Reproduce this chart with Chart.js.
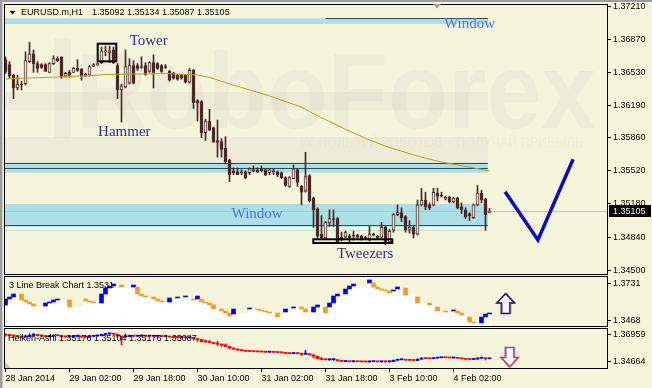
<!DOCTYPE html>
<html>
<head>
<meta charset="utf-8">
<script src="https://cdn.jsdelivr.net/npm/chart.js@4.4.1/dist/chart.umd.min.js"></script>
<style>
  html, body { margin: 0; padding: 0; background: #f5f5dc; }
  #wrap { position: relative; width: 652px; height: 388px; background: #f5f5dc; overflow: hidden; }
  #wrap canvas { position: absolute; left: 0; top: 0; }
</style>
</head>
<body>
<div id="wrap">
  <canvas id="haChart" width="652" height="388"></canvas>
  <canvas id="lbChart" width="652" height="388"></canvas>
  <canvas id="mainChart" width="652" height="388"></canvas>
</div>
<script>
// ═══════════════════════════════════════════════════════
//  EURUSD.m H1 — candles + 3 Line Break + Heiken-Ashi
// ═══════════════════════════════════════════════════════

// ── Candles (one per hour) ───────────────────────────────
const candleO = [
  1.3666, 1.3661, 1.3650, 1.3637, 1.3641, 1.3641, 1.3664, 1.3672, 1.3662, 1.3661,
  1.3661, 1.3653, 1.3662, 1.3667, 1.3669, 1.3649, 1.3653, 1.3653, 1.3657, 1.3656,
  1.3651, 1.3650, 1.3659, 1.3661, 1.3663, 1.3674, 1.3673, 1.3676, 1.3660, 1.3635,
  1.3638, 1.3642, 1.3660, 1.3660, 1.3659, 1.3660, 1.3654, 1.3663, 1.3662, 1.3660,
  1.3659, 1.3654, 1.3652, 1.3650, 1.3650, 1.3650, 1.3643, 1.3655, 1.3624, 1.3623,
  1.3591, 1.3603, 1.3596, 1.3583, 1.3582, 1.3575, 1.3563, 1.3552, 1.3551, 1.3551,
  1.3551, 1.3550, 1.3553, 1.3553, 1.3554, 1.3553, 1.3550, 1.3552, 1.3551, 1.3550,
  1.3545, 1.3536, 1.3544, 1.3553, 1.3536, 1.3531, 1.3547, 1.3524, 1.3513, 1.3487,
  1.3483, 1.3499, 1.3503, 1.3503, 1.3484, 1.3484, 1.3485, 1.3486, 1.3486, 1.3485,
  1.3484, 1.3481, 1.3487, 1.3485, 1.3484, 1.3494, 1.3479, 1.3491, 1.3507, 1.3509,
  1.3505, 1.3491, 1.3494, 1.3487, 1.3517, 1.3522, 1.3517, 1.3517, 1.3529, 1.3527,
  1.3523, 1.3525, 1.3520, 1.3524, 1.3515, 1.3512, 1.3508, 1.3504, 1.3517, 1.3529,
  1.3523, 1.35092
];
const candleH = [
  1.3669, 1.3664, 1.3651, 1.3650, 1.3644, 1.3674, 1.3684, 1.3676, 1.3664, 1.3662,
  1.3662, 1.3663, 1.3670, 1.3669, 1.3669, 1.3653, 1.3655, 1.3658, 1.3666, 1.3657,
  1.3652, 1.3660, 1.3662, 1.3663, 1.3679, 1.3680, 1.3680, 1.3679, 1.3662, 1.3641,
  1.3676, 1.3667, 1.3665, 1.3662, 1.3669, 1.3663, 1.3664, 1.3671, 1.3663, 1.3661,
  1.3661, 1.3655, 1.3653, 1.3651, 1.3651, 1.3651, 1.3657, 1.3656, 1.3625, 1.3624,
  1.3605, 1.3615, 1.3597, 1.3604, 1.3585, 1.3587, 1.3564, 1.3555, 1.3555, 1.3553,
  1.3552, 1.3555, 1.3557, 1.3555, 1.3557, 1.3554, 1.3554, 1.3554, 1.3552, 1.3551,
  1.3546, 1.3546, 1.3558, 1.3554, 1.3537, 1.3571, 1.3548, 1.3525, 1.3514, 1.3506,
  1.3500, 1.3512, 1.3512, 1.3504, 1.3489, 1.3490, 1.3487, 1.3490, 1.3487, 1.3486,
  1.3485, 1.3495, 1.3488, 1.3486, 1.3499, 1.3495, 1.3492, 1.3508, 1.3517, 1.3514,
  1.3506, 1.3501, 1.3495, 1.3522, 1.3534, 1.3530, 1.3519, 1.3534, 1.3534, 1.3530,
  1.3526, 1.3526, 1.3525, 1.3525, 1.3519, 1.3514, 1.3509, 1.3518, 1.3537, 1.3532,
  1.3524, 1.35134
];
const candleL = [
  1.3652, 1.3647, 1.3626, 1.3635, 1.3635, 1.3640, 1.3663, 1.3653, 1.3653, 1.3657,
  1.3654, 1.3653, 1.3661, 1.3664, 1.3647, 1.3648, 1.3648, 1.3653, 1.3654, 1.3645,
  1.3649, 1.3649, 1.3659, 1.3660, 1.3662, 1.3670, 1.3663, 1.3662, 1.3626, 1.3602,
  1.3637, 1.3641, 1.3641, 1.3655, 1.3657, 1.3650, 1.3653, 1.3637, 1.3656, 1.3653,
  1.3657, 1.3644, 1.3646, 1.3645, 1.3646, 1.3642, 1.3642, 1.3616, 1.3603, 1.3586,
  1.3583, 1.3593, 1.3581, 1.3566, 1.3566, 1.3559, 1.3541, 1.3548, 1.3548, 1.3548,
  1.3544, 1.3548, 1.3551, 1.3550, 1.3551, 1.3547, 1.3548, 1.3548, 1.3546, 1.3544,
  1.3536, 1.3535, 1.3544, 1.3536, 1.3517, 1.3530, 1.3520, 1.3494, 1.3483, 1.3482,
  1.3482, 1.3495, 1.3495, 1.3478, 1.3480, 1.3483, 1.3479, 1.3481, 1.3483, 1.3481,
  1.3482, 1.3480, 1.3485, 1.3482, 1.3483, 1.3476, 1.3478, 1.3489, 1.3506, 1.3500,
  1.3489, 1.3488, 1.3483, 1.3486, 1.3516, 1.3512, 1.3512, 1.3516, 1.3521, 1.3525,
  1.3522, 1.3519, 1.3519, 1.3513, 1.3508, 1.3503, 1.3501, 1.3503, 1.3516, 1.3519,
  1.3491, 1.35087
];
const candleC = [
  1.3654, 1.3649, 1.3637, 1.3641, 1.3640, 1.3665, 1.3672, 1.3662, 1.3657, 1.3658,
  1.3654, 1.3662, 1.3667, 1.3665, 1.3648, 1.3652, 1.3650, 1.3657, 1.3655, 1.3649,
  1.3649, 1.3659, 1.3661, 1.3662, 1.3675, 1.3675, 1.3675, 1.3663, 1.3635, 1.3639,
  1.3659, 1.3660, 1.3642, 1.3657, 1.3658, 1.3651, 1.3663, 1.3653, 1.3657, 1.3654,
  1.3658, 1.3645, 1.3647, 1.3646, 1.3647, 1.3643, 1.3655, 1.3622, 1.3622, 1.3591,
  1.3603, 1.3594, 1.3582, 1.3581, 1.3574, 1.3561, 1.3548, 1.3550, 1.3548, 1.3550,
  1.3545, 1.3554, 1.3552, 1.3551, 1.3552, 1.3548, 1.3553, 1.3551, 1.3548, 1.3545,
  1.3537, 1.3545, 1.3554, 1.3540, 1.3530, 1.3546, 1.3521, 1.3512, 1.3485, 1.3483,
  1.3499, 1.3503, 1.3502, 1.3479, 1.3481, 1.3489, 1.3483, 1.3485, 1.3484, 1.3482,
  1.3483, 1.3487, 1.3486, 1.3483, 1.3494, 1.3479, 1.3490, 1.3507, 1.3509, 1.3504,
  1.3491, 1.3494, 1.3487, 1.3517, 1.3522, 1.3515, 1.3514, 1.3530, 1.3526, 1.3526,
  1.3525, 1.3520, 1.3524, 1.3514, 1.3512, 1.3505, 1.3506, 1.3517, 1.3529, 1.3522,
  1.3507, 1.35105
];

// ── Moving average (sampled where it bends) ──────────────
const maIdx = [0, 6.1, 11.1, 18.6, 25.6, 33.6, 39.9, 47.9, 51.1, 56.9,
               65.4, 73.6, 78.6, 84.9, 90.4, 95.4, 103.6, 108.6, 115.4, 121];
const maVal = [1.36461, 1.36472, 1.36479, 1.36492, 1.36508, 1.36513, 1.36518, 1.36503, 1.36477, 1.36400,
               1.36297, 1.36179, 1.36072, 1.35948, 1.35846, 1.35767, 1.35664, 1.35613, 1.35562, 1.35518];

// ── Forecast "V" ─────────────────────────────────────────
const vIdx = [124.9, 133.1, 141.9];
const vVal = [1.35304, 1.34810, 1.35638];

// ── Window zones and their edge lines ────────────────────
const zoneHi    = [1.37084, 1.35603, 1.35179];
const zoneLo    = [1.37026, 1.35500, 1.34946];
const lineLevel = [1.37084, 1.35597, 1.35545, 1.34960];
const lineFrom  = [80, -2, -2, -2];
const paleLevel = 1.34912;
const ZONE_END  = 120.6;

// ── 3 Line Break blocks ──────────────────────────────────
const lbSlot = [0, 1, 2, 4, 5, 6, 7, 10, 11, 12, 13, 16, 20, 21, 22, 24, 25, 26, 27, 29,
                32, 33, 34, 35, 37, 38, 39, 41, 43, 45, 47, 48, 49, 50, 51, 52, 54, 55, 56, 57,
                61, 63, 64, 65, 66, 68, 70, 72, 74, 75, 77, 78, 80, 81, 82, 83, 85, 86, 87, 91,
                92, 93, 94, 95, 96, 97, 98, 100, 103, 106, 108, 110, 112, 113, 114, 116, 117, 119, 120, 121];
const lbLo = [1.35762, 1.36194, 1.36338, 1.36122, 1.35978, 1.35834, 1.35690, 1.35690, 1.35906, 1.35978,
              1.36122, 1.35618, 1.36050, 1.35978, 1.35906, 1.35906, 1.36554, 1.36986, 1.37130, 1.37058,
              1.37058, 1.36554, 1.36410, 1.36338, 1.36194, 1.36050, 1.35978, 1.35978, 1.36266, 1.36338,
              1.36122, 1.36194, 1.35978, 1.35906, 1.35762, 1.35474, 1.35330, 1.35186, 1.34970, 1.35114,
              1.35474, 1.35402, 1.35330, 1.35258, 1.35186, 1.34898, 1.35258, 1.35546, 1.35474, 1.35258,
              1.35258, 1.35618, 1.35186, 1.35618, 1.35906, 1.36410, 1.36554, 1.36914, 1.37130, 1.37346,
              1.37058, 1.36914, 1.36842, 1.36770, 1.36626, 1.36770, 1.36914, 1.36482, 1.35906, 1.35762,
              1.35330, 1.35258, 1.35330, 1.35186, 1.35042, 1.34538, 1.34466, 1.34466, 1.34898, 1.35114];
const lbHi = [1.36194, 1.36338, 1.36554, 1.36554, 1.36122, 1.35978, 1.35834, 1.35906, 1.35978, 1.36122,
              1.36194, 1.36122, 1.36194, 1.36050, 1.35978, 1.36554, 1.36986, 1.37130, 1.37274, 1.37202,
              1.37202, 1.37058, 1.36554, 1.36410, 1.36338, 1.36194, 1.36050, 1.36266, 1.36338, 1.36410,
              1.36194, 1.36410, 1.36194, 1.35978, 1.35906, 1.35762, 1.35474, 1.35330, 1.35186, 1.35474,
              1.35546, 1.35474, 1.35402, 1.35330, 1.35258, 1.35186, 1.35474, 1.35618, 1.35618, 1.35474,
              1.35618, 1.35762, 1.35618, 1.35906, 1.36410, 1.36554, 1.36914, 1.37130, 1.37274, 1.37562,
              1.37346, 1.37058, 1.36914, 1.36842, 1.36770, 1.36842, 1.37058, 1.36986, 1.36338, 1.35906,
              1.35618, 1.35330, 1.35402, 1.35330, 1.35186, 1.34898, 1.34538, 1.34898, 1.35114, 1.35186];
const lbUp = [1, 1, 1, 0, 0, 0, 0, 1, 1, 1, 1, 0, 0, 0, 0, 1, 1, 1, 1, 0,
              1, 0, 0, 0, 0, 0, 0, 1, 1, 1, 0, 1, 0, 0, 0, 0, 0, 0, 0, 1,
              1, 0, 0, 0, 0, 0, 1, 1, 0, 0, 1, 1, 0, 1, 1, 1, 1, 1, 1, 1,
              0, 0, 0, 0, 0, 1, 1, 0, 0, 0, 0, 0, 1, 0, 0, 0, 0, 1, 1, 1];

// ── Heiken-Ashi bars ─────────────────────────────────────
const haO = [
  1.3704, 1.3696, 1.3692, 1.3687, 1.3683, 1.3679, 1.3683, 1.3692, 1.3696, 1.3692,
  1.3687, 1.3683, 1.3687, 1.3692, 1.3690, 1.3683, 1.3680, 1.3680, 1.3684, 1.3686,
  1.3680, 1.3679, 1.3685, 1.3688, 1.3691, 1.3700, 1.3706, 1.3708, 1.3703, 1.3687,
  1.3679, 1.3683, 1.3689, 1.3686, 1.3687, 1.3689, 1.3686, 1.3689, 1.3685, 1.3686,
  1.3683, 1.3684, 1.3679, 1.3676, 1.3675, 1.3675, 1.3672, 1.3676, 1.3666, 1.3658,
  1.3641, 1.3638, 1.3632, 1.3624, 1.3618, 1.3611, 1.3598, 1.3585, 1.3577, 1.3568,
  1.3563, 1.3558, 1.3556, 1.3554, 1.3553, 1.3552, 1.3550, 1.3550, 1.3549, 1.3547,
  1.3545, 1.3540, 1.3538, 1.3542, 1.3538, 1.3532, 1.3537, 1.3527, 1.3515, 1.3495,
  1.3486, 1.3485, 1.3486, 1.3486, 1.3476, 1.3471, 1.3472, 1.3469, 1.3470, 1.3469,
  1.3468, 1.3467, 1.3469, 1.3469, 1.3468, 1.3472, 1.3468, 1.3471, 1.3481, 1.3486,
  1.3486, 1.3482, 1.3481, 1.3479, 1.3490, 1.3498, 1.3495, 1.3494, 1.3500, 1.3503,
  1.3504, 1.3503, 1.3501, 1.3502, 1.3498, 1.3494, 1.3490, 1.3488, 1.3491, 1.3499,
  1.3500, 1.3494
];
const haC = [
  1.3696, 1.3692, 1.3687, 1.3683, 1.3679, 1.3683, 1.3692, 1.3696, 1.3692, 1.3687,
  1.3683, 1.3687, 1.3692, 1.3690, 1.3683, 1.3680, 1.3680, 1.3684, 1.3686, 1.3680,
  1.3679, 1.3685, 1.3688, 1.3691, 1.3700, 1.3706, 1.3708, 1.3703, 1.3687, 1.3679,
  1.3683, 1.3689, 1.3686, 1.3687, 1.3689, 1.3686, 1.3689, 1.3685, 1.3686, 1.3683,
  1.3684, 1.3679, 1.3676, 1.3675, 1.3675, 1.3672, 1.3676, 1.3666, 1.3658, 1.3641,
  1.3638, 1.3632, 1.3624, 1.3618, 1.3611, 1.3598, 1.3585, 1.3577, 1.3568, 1.3563,
  1.3558, 1.3556, 1.3554, 1.3553, 1.3552, 1.3550, 1.3550, 1.3549, 1.3547, 1.3545,
  1.3540, 1.3538, 1.3542, 1.3538, 1.3532, 1.3537, 1.3527, 1.3515, 1.3495, 1.3486,
  1.3485, 1.3486, 1.3486, 1.3476, 1.3471, 1.3472, 1.3469, 1.3470, 1.3469, 1.3468,
  1.3467, 1.3469, 1.3469, 1.3468, 1.3472, 1.3468, 1.3471, 1.3481, 1.3486, 1.3486,
  1.3482, 1.3481, 1.3479, 1.3490, 1.3498, 1.3495, 1.3494, 1.3500, 1.3503, 1.3504,
  1.3503, 1.3501, 1.3502, 1.3498, 1.3494, 1.3490, 1.3488, 1.3491, 1.3499, 1.3500,
  1.3494, 1.3494
];
const haH = [
  1.3704, 1.3700, 1.3696, 1.3692, 1.3687, 1.3696, 1.3704, 1.3709, 1.3700, 1.3696,
  1.3692, 1.3692, 1.3696, 1.3696, 1.3692, 1.3687, 1.3685, 1.3687, 1.3696, 1.3687,
  1.3683, 1.3687, 1.3689, 1.3692, 1.3704, 1.3710, 1.3711, 1.3710, 1.3704, 1.3687,
  1.3704, 1.3696, 1.3692, 1.3689, 1.3696, 1.3692, 1.3690, 1.3694, 1.3687, 1.3687,
  1.3685, 1.3685, 1.3680, 1.3677, 1.3677, 1.3676, 1.3680, 1.3677, 1.3666, 1.3658,
  1.3653, 1.3649, 1.3632, 1.3641, 1.3619, 1.3621, 1.3598, 1.3585, 1.3577, 1.3568,
  1.3563, 1.3560, 1.3558, 1.3556, 1.3554, 1.3553, 1.3553, 1.3552, 1.3551, 1.3549,
  1.3546, 1.3542, 1.3546, 1.3544, 1.3539, 1.3564, 1.3538, 1.3529, 1.3517, 1.3507,
  1.3493, 1.3495, 1.3495, 1.3487, 1.3479, 1.3475, 1.3473, 1.3475, 1.3471, 1.3470,
  1.3469, 1.3476, 1.3470, 1.3470, 1.3476, 1.3475, 1.3475, 1.3483, 1.3491, 1.3490,
  1.3487, 1.3487, 1.3483, 1.3493, 1.3505, 1.3503, 1.3497, 1.3504, 1.3505, 1.3505,
  1.3505, 1.3504, 1.3503, 1.3503, 1.3500, 1.3495, 1.3491, 1.3493, 1.3503, 1.3503,
  1.3500, 1.3495
];
const haL = [
  1.3687, 1.3687, 1.3675, 1.3679, 1.3675, 1.3679, 1.3683, 1.3687, 1.3687, 1.3683,
  1.3679, 1.3679, 1.3683, 1.3687, 1.3675, 1.3675, 1.3676, 1.3679, 1.3680, 1.3675,
  1.3676, 1.3676, 1.3683, 1.3687, 1.3689, 1.3698, 1.3700, 1.3700, 1.3679, 1.3611,
  1.3679, 1.3683, 1.3683, 1.3684, 1.3687, 1.3683, 1.3686, 1.3675, 1.3683, 1.3681,
  1.3682, 1.3677, 1.3675, 1.3673, 1.3673, 1.3670, 1.3670, 1.3658, 1.3641, 1.3636,
  1.3632, 1.3630, 1.3621, 1.3607, 1.3598, 1.3598, 1.3577, 1.3573, 1.3566, 1.3561,
  1.3555, 1.3554, 1.3553, 1.3551, 1.3551, 1.3548, 1.3548, 1.3547, 1.3546, 1.3543,
  1.3538, 1.3537, 1.3538, 1.3534, 1.3521, 1.3532, 1.3526, 1.3501, 1.3494, 1.3485,
  1.3483, 1.3481, 1.3480, 1.3475, 1.3469, 1.3469, 1.3466, 1.3466, 1.3468, 1.3466,
  1.3466, 1.3466, 1.3468, 1.3466, 1.3466, 1.3464, 1.3466, 1.3470, 1.3481, 1.3483,
  1.3481, 1.3480, 1.3476, 1.3478, 1.3490, 1.3493, 1.3493, 1.3494, 1.3498, 1.3501,
  1.3502, 1.3500, 1.3500, 1.3496, 1.3492, 1.3488, 1.3485, 1.3487, 1.3491, 1.3496,
  1.3483, 1.3493
];

// ── Axis ticks ───────────────────────────────────────────
const priceTicks  = [1.37210, 1.36870, 1.36530, 1.36190, 1.35860, 1.35520, 1.35180, 1.34840, 1.34500];
const lbTicks     = [1.3731, 1.3468];
const haTicks     = [1.36959, 1.34664];
const timeTickIdx = [0, 16, 32, 48, 64, 80, 96, 112];
const timeTicks   = ["28 Jan 2014", "29 Jan 02:00", "29 Jan 18:00", "30 Jan 10:00",
                     "31 Jan 02:00", "31 Jan 18:00", "3 Feb 10:00", "4 Feb 02:00"];

// ── Look ─────────────────────────────────────────────────
const BG     = "#f5f5dc";
const CANDLE = "#4b2828";
const BLUE   = "#0000ff";
const RED    = "#ff0000";
const ORANGE = "#f59a23";
const NAVY   = "#2a2f8a";
const ROYAL  = "#4f72e3";
const SANS   = "'Liberation Sans', Arial, sans-serif";
const SERIF  = "'Liberation Serif', 'Times New Roman', serif";
const FONT   = { family: SANS, size: 9 };
const X_MIN  = -0.125, X_MAX = 150.375;

// ── Shared helpers ───────────────────────────────────────
function xAxis(show) {
  const ax = {
    type: "linear", min: X_MIN, max: X_MAX, offset: false, display: show,
    grid: { offset: false, drawOnChartArea: false, tickLength: 4, color: "#000" },
    border: { display: false }
  };
  if (show) {
    ax.position = "bottom";
    ax.afterFit = s => { s.height = 20; s.paddingLeft = 0; s.paddingRight = 0; };
    ax.afterBuildTicks = s => { s.ticks = timeTickIdx.map(v => ({ value: v })); };
    ax.ticks = { callback: (v, i) => timeTicks[i], align: "start", maxRotation: 0, minRotation: 0,
                 autoSkip: false, padding: 1, font: FONT, color: "#000" };
  }
  return ax;
}

function yAxis(min, max, ticks, digits) {
  return {
    position: "right", min, max, beginAtZero: false,
    afterFit: s => { s.width = 45; s.paddingTop = 0; s.paddingBottom = 0; },
    afterBuildTicks: s => { s.ticks = ticks.map(v => ({ value: v })); },
    ticks: { callback: v => Number(v).toFixed(digits), font: FONT, color: "#000", padding: 2, autoSkip: false },
    grid: { drawOnChartArea: false, tickLength: 4, color: "#000" },
    border: { display: false }
  };
}

function baseOptions(padding, scales) {
  return {
    responsive: false, animation: false, devicePixelRatio: 1, events: [],
    layout: { padding }, scales,
    plugins: { legend: { display: false }, tooltip: { enabled: false } }
  };
}

function paneBorder(chart) {
  const { ctx, chartArea: a } = chart;
  ctx.save();
  ctx.strokeStyle = "#000"; ctx.lineWidth = 1;
  ctx.strokeRect(a.left - 0.5, a.top - 0.5, a.right - a.left + 1, a.bottom - a.top + 1);
  ctx.restore();
}

function outlineArrow(ctx, cx, top, pts, fill, under, over) {
  const path = dx => {
    ctx.beginPath();
    pts.forEach(([px, py], i) => i ? ctx.lineTo(cx + px + dx, top + py) : ctx.moveTo(cx + px + dx, top + py));
    ctx.closePath();
  };
  ctx.save();
  path(0); ctx.fillStyle = fill; ctx.fill();
  ctx.lineWidth = 1;
  path(1); ctx.strokeStyle = under; ctx.stroke();
  ctx.lineWidth = 1.3;
  path(0); ctx.strokeStyle = over; ctx.stroke();
  ctx.restore();
}

// ── Main pane decorations ────────────────────────────────
const notes = [
  { t: "Tower",    x: 35.8,  y: 1.36810, c: NAVY },
  { t: "Hammer",   x: 29.7,  y: 1.35872, c: NAVY },
  { t: "Window",   x: 116.0, y: 1.36985, c: ROYAL },
  { t: "Window",   x: 62.9,  y: 1.35035, c: ROYAL },
  { t: "Tweezers", x: 89.9,  y: 1.34625, c: NAVY }
];
const boxes = [
  { x0: 23.05, x1: 27.7, hi: 1.36824, lo: 1.36643 },
  { x0: 76.95, x1: 96.7, hi: 1.34817, lo: 1.34779 }
];

const mainDecor = {
  id: "mainDecor",
  beforeDatasetsDraw(chart) {
    const { ctx, chartArea: a, scales: { x, y } } = chart;
    const xr = x.getPixelForValue(ZONE_END);
    const n = candleC.length - 1;
    ctx.save();
    ctx.beginPath(); ctx.rect(a.left, a.top, a.right - a.left, a.bottom - a.top); ctx.clip();

    // watermark (kept faint)
    ctx.fillStyle = "#eeecd7";
    ctx.fillRect(a.left, 92, xr - a.left, 18);
    ctx.fillRect(a.left, 137, xr - a.left, 26);
    ctx.fillStyle = "rgba(140,140,150,0.065)";
    ctx.fillRect(54, 38, 17, 100);
    ctx.font = "bold 108px " + SANS;
    ctx.textAlign = "left"; ctx.textBaseline = "alphabetic";
    ctx.fillText("RoboForex", 76, 128, 520);
    ctx.fillStyle = "rgba(140,140,150,0.05)";
    ctx.font = "15px " + SANS;
    ctx.fillText("ИСПОЛЬЗУЙ РОБОТОВ – ПОЛУЧАЙ ПРИБЫЛЬ", 300, 147, 283);

    // window zones
    ctx.fillStyle = "#acdfe7";
    zoneLo.forEach((lo, i) => {
      const t = y.getPixelForValue(zoneHi[i]), b = y.getPixelForValue(lo);
      ctx.fillRect(a.left, t, xr - a.left, b - t);
    });
    ctx.lineWidth = 1;
    ctx.strokeStyle = "#2f4f4f";
    lineLevel.forEach((lv, i) => {
      const py = Math.round(y.getPixelForValue(lv)) + 0.5;
      ctx.beginPath();
      ctx.moveTo(Math.max(a.left, x.getPixelForValue(lineFrom[i])), py);
      ctx.lineTo(xr, py); ctx.stroke();
    });
    const pp = Math.round(y.getPixelForValue(paleLevel)) + 0.5;
    ctx.strokeStyle = "#b6e2ea";
    ctx.beginPath(); ctx.moveTo(a.left, pp); ctx.lineTo(xr, pp); ctx.stroke();

    // last price line
    const cp = Math.round(y.getPixelForValue(candleC[n])) + 0.5;
    ctx.strokeStyle = "#c9bfc4";
    ctx.beginPath(); ctx.moveTo(a.left, cp); ctx.lineTo(a.right, cp); ctx.stroke();
    ctx.restore();
  },
  afterDatasetsDraw(chart) {
    const { ctx, scales: { x, y } } = chart;
    ctx.save();
    ctx.strokeStyle = "#000"; ctx.lineWidth = 2;
    boxes.forEach(b => {
      const l = x.getPixelForValue(b.x0), r = x.getPixelForValue(b.x1);
      const t = y.getPixelForValue(b.hi), btm = y.getPixelForValue(b.lo);
      ctx.strokeRect(l, t, r - l, btm - t);
    });
    ctx.font = "15px " + SERIF;
    ctx.textAlign = "center"; ctx.textBaseline = "alphabetic";
    notes.forEach(nt => {
      ctx.fillStyle = nt.c;
      ctx.fillText(nt.t, x.getPixelForValue(nt.x), y.getPixelForValue(nt.y));
    });
    ctx.restore();
  },
  afterDraw(chart) {
    const { ctx, chartArea: a, scales: { y } } = chart;
    const n = candleC.length - 1;
    paneBorder(chart);
    ctx.save();

    // header
    ctx.fillStyle = "#000";
    ctx.beginPath(); ctx.moveTo(9.5, 11); ctx.lineTo(15.5, 11); ctx.lineTo(12.5, 14.5); ctx.closePath(); ctx.fill();
    ctx.font = "9px " + SANS;
    ctx.textAlign = "left"; ctx.textBaseline = "middle";
    ctx.fillText("EURUSD.m,H1", 21, 13);
    ctx.fillText([candleO[n], candleH[n], candleL[n], candleC[n]].map(v => v.toFixed(5)).join(" "), 92, 13);

    // last price tag
    const py = Math.round(y.getPixelForValue(candleC[n]));
    ctx.fillStyle = "#000";
    ctx.fillRect(a.right + 2, py - 6, 42, 12);
    ctx.fillStyle = "#fff";
    ctx.fillText(candleC[n].toFixed(5), a.right + 6, py + 0.5);

    // shift marker + window frame
    ctx.fillStyle = "#a0a0a0";
    ctx.beginPath(); ctx.moveTo(433, 4); ctx.lineTo(441, 4); ctx.lineTo(437, 8.5); ctx.closePath(); ctx.fill();
    ctx.fillStyle = "#9c9c9c";
    ctx.fillRect(0, 0, 652, 2);
    ctx.fillRect(0, 0, 2, 388);
    ctx.fillStyle = "#cfcfc6";
    ctx.fillRect(2, 2, 1, 386);
    ctx.restore();
  }
};

// ── Main pane: candles, MA and the V ─────────────────────
const idx      = candleO.map((_, i) => i);
const wickData = idx.map(i => ({ x: i, y: [candleL[i], candleH[i]] }));
const bodyData = idx.map(i => ({ x: i, y: [Math.min(candleO[i], candleC[i]), Math.max(candleO[i], candleC[i])] }));
const bodyFill = idx.map(i => candleC[i] >= candleO[i] ? BG : CANDLE);

new Chart(document.getElementById("mainChart"), {
  type: "bar",
  data: {
    datasets: [
      { type: "line", data: vIdx.map((v, i) => ({ x: v, y: vVal[i] })),
        borderColor: "#0a0ac8", borderWidth: 3.5, pointRadius: 0, tension: 0 },
      { type: "line", data: maIdx.map((v, i) => ({ x: v, y: maVal[i] })),
        borderColor: "#c8961e", borderWidth: 1, pointRadius: 0, tension: 0 },
      { data: bodyData, backgroundColor: bodyFill, borderColor: CANDLE, borderWidth: 1,
        borderSkipped: false, barThickness: 3, minBarLength: 1, grouped: false },
      { data: wickData, backgroundColor: CANDLE, borderWidth: 0, barThickness: 1, grouped: false }
    ]
  },
  options: baseOptions({ left: 5, top: 5, right: 0, bottom: 114 },
    { x: xAxis(false), y: yAxis(1.34461, 1.37221, priceTicks, 5) }),
  plugins: [mainDecor]
});

// ── 3 Line Break pane ────────────────────────────────────
const lbBlocks = lbSlot.map((s, i) => ({ x: s, y: [lbLo[i], lbHi[i]] }));
const lbColors = lbUp.map(u => u ? BLUE : ORANGE);
const lbFloor  = lbSlot.map((s, i) => ({ x: s - 0.5, y: lbLo[i] }))
  .concat([{ x: lbSlot[lbSlot.length - 1] + 0.5, y: lbLo[lbLo.length - 1] }]);

const lbDecor = {
  id: "lbDecor",
  afterDatasetsDraw(chart) {
    const { ctx } = chart;
    ctx.save();
    ctx.fillStyle = "#000"; ctx.font = "9px " + SANS;
    ctx.textAlign = "left"; ctx.textBaseline = "middle";
    ctx.fillText("3 Line Break Chart 1.3531", 9, 286);
    ctx.restore();
  },
  afterDraw(chart) {
    const { ctx, scales: { x, y } } = chart;
    paneBorder(chart);
    outlineArrow(ctx, Math.round(x.getPixelForValue(124.9)) + 0.5, Math.round(y.getPixelForValue(1.3663)) + 0.5,
      [[0, 0], [9, 9.5], [4.3, 9.5], [4.3, 20], [-4.3, 20], [-4.3, 9.5], [-9, 9.5]],
      "#fbfbf4", "#b8489a", "#10187a");
  }
};

new Chart(document.getElementById("lbChart"), {
  type: "bar",
  data: {
    datasets: [
      { data: lbBlocks, backgroundColor: lbColors, borderWidth: 0, barThickness: 4, grouped: false },
      { type: "line", data: lbFloor, stepped: true, fill: "start", backgroundColor: "#ffffff",
        borderWidth: 0, pointRadius: 0 }
    ]
  },
  options: baseOptions({ left: 5, top: 277, right: 0, bottom: 62 },
    { x: xAxis(false), y: yAxis(1.34250, 1.37778, lbTicks, 4) }),
  plugins: [lbDecor]
});

// ── Heiken-Ashi pane ─────────────────────────────────────
const haIdx    = haO.map((_, i) => i);
const haColors = haIdx.map(i => haC[i] >= haO[i] ? BLUE : RED);
const haBodies = haIdx.map(i => ({ x: i, y: [Math.min(haO[i], haC[i]), Math.max(haO[i], haC[i])] }));
const haWicks  = haIdx.map(i => ({ x: i, y: [haL[i], haH[i]] }));

const haDecor = {
  id: "haDecor",
  afterDatasetsDraw(chart) {
    const { ctx, chartArea: a } = chart;
    ctx.save();
    ctx.fillStyle = "#000"; ctx.font = "9px " + SANS;
    ctx.textAlign = "left"; ctx.textBaseline = "middle";
    ctx.fillText("Heiken-Ashi 1.35176 1.35104 1.35176 1.35087", 8, 338.5);
    ctx.fillStyle = "#c8c8c0";
    ctx.beginPath(); ctx.moveTo(a.left, a.bottom - 6); ctx.lineTo(a.left, a.bottom); ctx.lineTo(a.left + 6, a.bottom); ctx.closePath(); ctx.fill();
    ctx.restore();
  },
  afterDraw(chart) {
    const { ctx, scales: { x, y } } = chart;
    paneBorder(chart);
    outlineArrow(ctx, Math.round(x.getPixelForValue(125.8)) + 0.5, Math.round(y.getPixelForValue(1.35939)) + 0.5,
      [[-4.3, 0], [4.3, 0], [4.3, 10], [8.7, 10], [0, 19.5], [-8.7, 10], [-4.3, 10]],
      "#fbfbf4", "#7088d8", "#e32d62");
  }
};

new Chart(document.getElementById("haChart"), {
  type: "bar",
  data: {
    datasets: [
      { data: haBodies, backgroundColor: haColors, borderWidth: 0, barThickness: 3, minBarLength: 1, grouped: false },
      { data: haWicks, backgroundColor: haColors, borderWidth: 0, barThickness: 1, grouped: false }
    ]
  },
  options: baseOptions({ left: 5, top: 329, right: 0, bottom: 0 },
    { x: xAxis(true), y: yAxis(1.34154, 1.37469, haTicks, 5) }),
  plugins: [haDecor]
});
</script>
</body>
</html>
